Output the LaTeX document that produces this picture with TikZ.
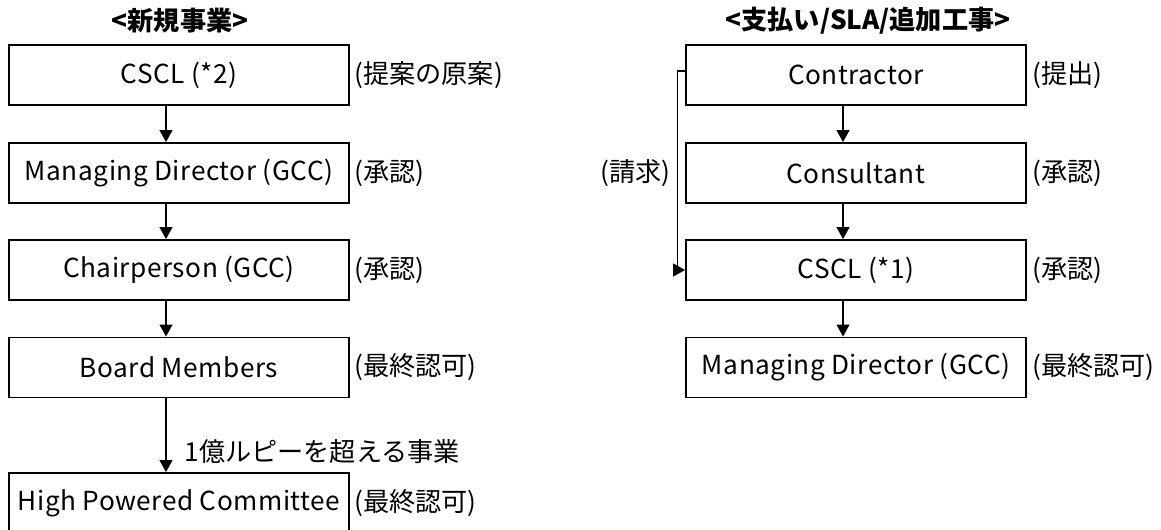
\documentclass[tikz,border=0pt]{standalone}
\usepackage{fontspec}
\setmainfont{Noto Sans CJK JP}
\newfontfamily\boxfont{Noto Sans CJK JP}[LetterSpace=2]
\usepackage{tikz}
\usetikzlibrary{positioning,arrows.meta}

\begin{document}
\begin{tikzpicture}[font=\fontsize{14.9}{18}\selectfont,
		box/.style = {draw, line width=1.1pt, minimum width=6.8cm, minimum height=1.2cm, inner sep=0pt, font=\fontsize{14.9}{18}\boxfont},
		note/.style = {inner sep=0pt},
		arr/.style = {-{Triangle[width=0.26cm,length=0.24cm]}, line width=0.6pt}]
				\useasboundingbox (0,0) rectangle (23.22,-10.6);

				% left: new business
				\node (titleL) [font=\fontsize{14.9}{18}\selectfont\bfseries] at (3.6,-0.42) {<新規事業>};
				\node (csclA) [box] at (3.58,-1.5) {CSCL (*2)};
				\node (mdA) [box] at (3.58,-3.46) {Managing Director (GCC)};
				\node (chair) [box] at (3.58,-5.4) {Chairperson (GCC)};
				\node (board) [box] at (3.58,-7.35) {Board Members};
				\node (hpc) [box] at (3.58,-10.06) {High Powered Committee};

				\node (nCsclA) [note, right=0.08cm of csclA] {(提案の原案)};
				\node (nMdA) [note, right=0.08cm of mdA] {(承認)};
				\node (nChair) [note, right=0.08cm of chair] {(承認)};
				\node (nBoard) [note, right=0.08cm of board] {(最終認可)};
				\node (nHpc) [note, right=0.08cm of hpc] {(最終認可)};

				\draw[arr] ([xshift=-0.26cm]csclA.south) -- ([xshift=-0.26cm]mdA.north);
				\draw[arr] ([xshift=-0.26cm]mdA.south) -- ([xshift=-0.26cm]chair.north);
				\draw[arr] ([xshift=-0.26cm]chair.south) -- ([xshift=-0.26cm]board.north);
				\draw[arr] ([xshift=-0.26cm]board.south) -- ([xshift=-0.26cm]hpc.north)
					node (limit) [note, pos=0.72, anchor=west, xshift=0.36cm] {1億ルピーを超える事業};

				% right: payment / SLA / additional works
				\node (titleR) [font=\fontsize{14.9}{18}\selectfont\bfseries] at (17.36,-0.42) {<支払い/SLA/追加工事>};
				\node (contr) [box] at (17.12,-1.5) {Contractor};
				\node (cons) [box] at (17.12,-3.46) {Consultant};
				\node (csclB) [box] at (17.12,-5.4) {CSCL (*1)};
				\node (mdB) [box] at (17.12,-7.35) {Managing Director (GCC)};

				\node (nContr) [note, right=0.1cm of contr] {(提出)};
				\node (nCons) [note, right=0.1cm of cons] {(承認)};
				\node (nCsclB) [note, right=0.1cm of csclB] {(承認)};
				\node (nMdB) [note, right=0.1cm of mdB] {(最終認可)};
				\node (claim) [note, left=0.28cm of cons] {(請求)};

				\draw[arr] ([xshift=-0.26cm]contr.south) -- ([xshift=-0.26cm]cons.north);
				\draw[arr] ([xshift=-0.26cm]cons.south) -- ([xshift=-0.26cm]csclB.north);
				\draw[arr] ([xshift=-0.26cm]csclB.south) -- ([xshift=-0.26cm]mdB.north);
				\draw[arr] ([yshift=0.08cm]contr.west) -- ++(-0.16,0) |- (csclB.west);
			\end{tikzpicture}
\end{document}
